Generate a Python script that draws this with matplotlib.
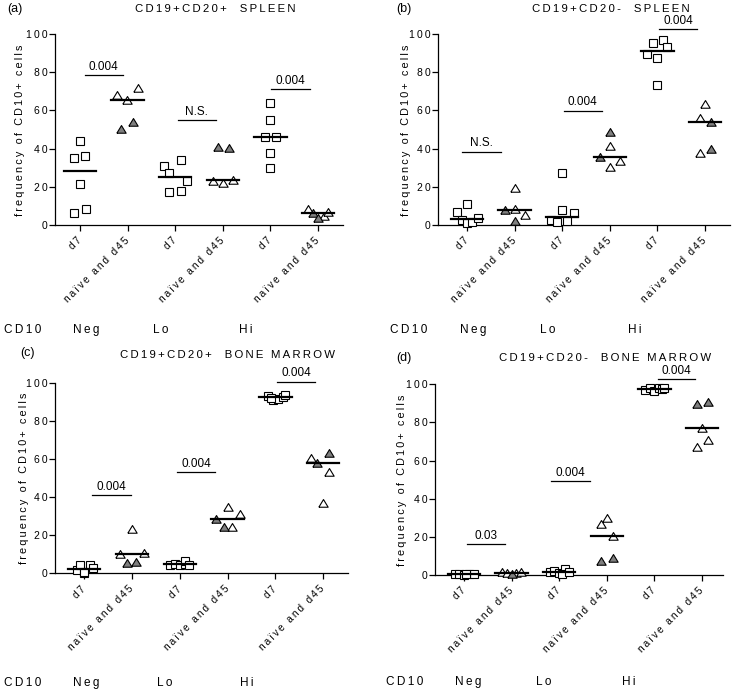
import numpy as np
import matplotlib.pyplot as plt

plt.rcParams['font.family'] = ['Liberation Sans', 'DejaVu Sans']

W, H = 733, 693

groups = ['d7', 'naïve and d45'] * 3
cd10_levels = ['Neg', 'Lo', 'Hi']
yticks = [0, 20, 40, 60, 80, 100]

# (a) CD19+CD20+ spleen
a_vals = [[44.0, 34.9, 36.3, 21.6, 6.1, 8.2],
          [68.1, 65.6, 71.6, 50.1, 54.1],
          [30.9, 27.0, 34.0, 23.2, 17.3, 17.6],
          [40.7, 40.1, 23.2, 21.8, 23.4],
          [64.0, 55.0, 45.9, 46.2, 37.5, 30.0],
          [8.4, 6.5, 3.5, 4.7, 7.0]]
a_dx = [[0, -0.13, 0.1, 0, -0.13, 0.12],
        [-0.23, -0.01, 0.22, -0.13, 0.12],
        [-0.24, -0.12, 0.13, 0.24, -0.12, 0.13],
        [-0.11, 0.12, -0.2, 0, 0.22],
        [0, 0, -0.11, 0.12, 0, 0],
        [-0.21, -0.1, 0, 0.12, 0.22]]
a_naive = [[0, 0, 0, 1, 1], [1, 1, 0, 0, 0], [0, 1, 1, 0, 0]]
a_sig = [(0.1, 0.9, 78.5, '0.004'), (2.05, 2.85, 55, 'N.S.'), (4.02, 4.83, 71.2, '0.004')]

# (b) CD19+CD20- spleen
b_vals = [[10.8, 6.6, 2.6, 1.0, 1.5, 3.8],
          [19.5, 8.0, 8.4, 2.3, 5.2],
          [27.1, 7.9, 6.1, 2.6, 1.4, 2.1],
          [48.5, 41.5, 35.8, 33.7, 30.5],
          [95.4, 96.9, 93.0, 89.4, 87.3, 73.1],
          [63.2, 56.2, 54.1, 37.5, 39.6]]
b_dx = [[0, -0.21, -0.1, 0, 0.1, 0.22],
        [0, -0.21, 0, 0, 0.22],
        [0, 0, 0.24, -0.24, -0.1, 0.09],
        [0, 0, -0.21, 0.22, 0],
        [-0.1, 0.12, 0.21, -0.22, 0, 0],
        [0, -0.11, 0.12, -0.11, 0.12]]
b_naive = [[0, 1, 0, 1, 0], [1, 0, 1, 0, 0], [0, 0, 1, 0, 1]]
b_sig = [(-0.1, 0.71, 38.4, 'N.S.'), (2.03, 2.83, 59.9, '0.004'), (4.03, 4.83, 102.6, '0.004')]

# (c) CD19+CD20+ bone marrow
c_vals = [[1.7, 4.4, 0.3, 4.2, 2.6, 0.5],
          [23.2, 10.0, 10.5, 5.2, 6.1],
          [4.5, 4.8, 4.3, 5.0, 6.4, 4.6],
          [34.9, 30.9, 28.5, 24.5, 24.5],
          [93.2, 90.8, 91.5, 92.5, 93.5, 92.0],
          [63.3, 60.3, 57.7, 53.3, 37.0]]
c_dx = [[-0.16, -0.09, 0, 0.12, 0.19, 0],
        [0, -0.24, 0.25, -0.1, 0.09],
        [-0.2, -0.1, 0, 0.1, 0.12, 0.2],
        [0, 0.26, -0.24, -0.07, 0.1],
        [-0.15, -0.05, 0.05, 0.15, 0.2, -0.1],
        [0.12, -0.25, -0.12, 0.12, 0]]
c_naive = [[0, 0, 0, 1, 1], [0, 0, 1, 1, 0], [1, 0, 1, 0, 0]]
c_sig = [(0.17, 0.98, 41.1, '0.004'), (1.95, 2.74, 53.0, '0.004'), (4.03, 4.83, 100.5, '0.004')]

# (d) CD19+CD20- bone marrow
d_vals = [[0.3, 0.5, 0.2, 0.6, 0.4, 0.7],
          [1.5, 1.2, 0.3, 1.0, 1.5],
          [1.5, 2.0, 1.2, 3.0, 0.5, 1.8],
          [30.0, 26.6, 20.6, 7.5, 8.7],
          [97.0, 97.8, 96.5, 98.0, 97.5, 98.2],
          [90.6, 89.5, 76.9, 70.8, 67.0]]
d_dx = [[-0.2, -0.1, 0, 0.1, 0.2, 0.05],
        [-0.2, -0.1, 0, 0.1, 0.2],
        [-0.2, -0.1, 0, 0.12, 0.05, 0.2],
        [0, -0.12, 0.12, -0.12, 0.12],
        [-0.2, -0.1, 0, 0.1, 0.15, 0.2],
        [0.12, -0.11, 0, 0.12, -0.11]]
d_naive = [[0, 0, 1, 0, 0], [0, 0, 0, 1, 1], [1, 1, 0, 0, 0]]
d_sig = [(0.07, 0.87, 16.1, '0.03'), (1.83, 2.64, 49.3, '0.004'), (4.07, 4.86, 102.6, '0.004')]

titles = ['CD19+CD20+  SPLEEN', 'CD19+CD20-  SPLEEN',
          'CD19+CD20+  BONE MARROW', 'CD19+CD20-  BONE MARROW']
letters = ['(a)', '(b)', '(c)', '(d)']


def track(s):
    # wide letter spacing of the original
    return '\u2009'.join(s)


def px(x, y):
    return x / W, 1 - y / H


tri = [(-1, -0.8), (1, -0.8), (0, 0.85), (-1, -0.8)]

fig = plt.figure(figsize=(W / 100, H / 100), dpi=100)


def panel(rect, xlim, vals, dx, naive, sig):
    ax = fig.add_axes(rect)
    for i in range(6):
        v = np.asarray(vals[i], float)
        x = i + np.asarray(dx[i], float)
        if i % 2 == 0:
            ax.plot(x, v, 's', ms=5.4, mfc='white', mec='black', mew=0.8,
                    zorder=3, clip_on=False)
        else:
            f = np.asarray(naive[i // 2], bool)
            ax.plot(x[~f], v[~f], ls='none', marker=tri, ms=6.7, mfc='white',
                    mec='black', mew=0.8, zorder=3, clip_on=False)
            ax.plot(x[f], v[f], ls='none', marker=tri, ms=6.7, mfc='#7f7f7f',
                    mec='black', mew=0.8, zorder=3, clip_on=False)
        m = np.median(v)
        ax.plot([i - 0.34, i + 0.34], [m, m], color='black', lw=1.6, zorder=4,
                clip_on=False)
    for x0, x1, y, lab in sig:
        ax.plot([x0, x1], [y, y], color='black', lw=0.9, clip_on=False)
        ax.text((x0 + x1) / 2, y + 1.2, lab, ha='center', va='bottom',
                fontsize=8.5)
    ax.set_xlim(xlim)
    ax.set_ylim(0, 100)
    ax.set_yticks(yticks)
    ax.set_yticklabels([track(str(t)) for t in yticks], fontsize=7.5)
    ax.set_xticks(range(6))
    ax.set_xticklabels([track(g) for g in groups], fontsize=7.2, rotation=45,
                       ha='right', va='center', rotation_mode='anchor')
    for s in ['top', 'right']:
        ax.spines[s].set_visible(False)
    for s in ['left', 'bottom']:
        ax.spines[s].set_linewidth(0.9)
    ax.tick_params(axis='both', direction='out', length=4, width=0.9, pad=1.5)
    ax.tick_params(axis='x', pad=6)
    ax.set_facecolor('none')
    return ax


panel([55 / W, 1 - 225 / H, 288 / W, 191 / H], (-0.525, 5.525),
      a_vals, a_dx, a_naive, a_sig)
panel([438 / W, 1 - 225 / H, 292 / W, 191 / H], (-0.61, 5.525),
      b_vals, b_dx, b_naive, b_sig)
panel([55 / W, 1 - 573.3 / H, 293 / W, 190.6 / H], (-0.61, 5.52),
      c_vals, c_dx, c_naive, c_sig)
panel([435 / W, 1 - 575 / H, 288 / W, 190.7 / H], (-0.61, 5.44),
      d_vals, d_dx, d_naive, d_sig)

# panel letters, titles, y labels
letter_pos = [(7, 9), (396, 9), (20, 353), (396, 358)]
title_pos = [(215, 9), (611, 9), (227, 355), (605, 358)]
ylab_pos = [(20, 130), (406, 130), (24, 478), (402, 480)]
for k in range(4):
    fig.text(*px(*letter_pos[k]), letters[k], ha='left', va='center', fontsize=9)
    fig.text(*px(*title_pos[k]), track(titles[k]), ha='center', va='center',
             fontsize=8.2)
    fig.text(*px(*ylab_pos[k]), track('frequency of CD10+ cells'), rotation=90,
             ha='center', va='center', fontsize=7.8)

# CD10 rows
row_pos = [(330, [4, 73, 153, 239]), (330, [390, 460, 540, 628]),
           (683, [4, 73, 157, 240]), (682, [386, 455, 536, 622])]
for y, xs in row_pos:
    for x, lab in zip(xs, ['CD10'] + cd10_levels):
        fig.text(*px(x, y), track(lab), ha='left', va='center', fontsize=8.5)

fig.savefig('out.png', dpi=100)
